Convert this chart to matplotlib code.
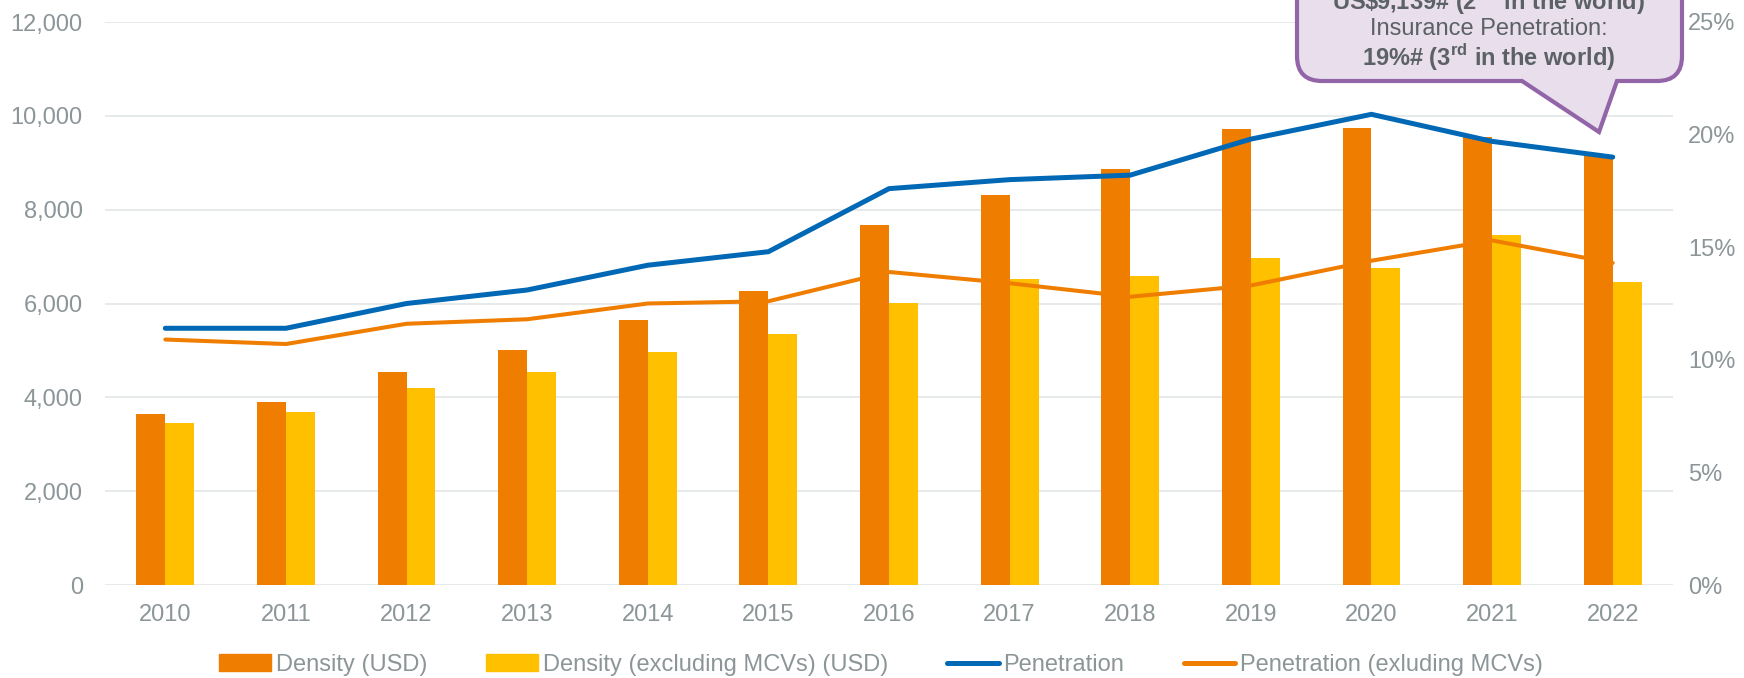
#!/usr/bin/env python3
"""Insurance density and penetration, 2010-2022, with a callout box."""
import matplotlib

matplotlib.use("Agg")
import matplotlib.pyplot as plt
from matplotlib.lines import Line2D
from matplotlib.patches import Patch, PathPatch
from matplotlib.path import Path
from matplotlib.ticker import FuncFormatter, MultipleLocator
from matplotlib.transforms import Affine2D
import numpy as np

YEARS = ["2010", "2011", "2012", "2013", "2014", "2015", "2016",
         "2017", "2018", "2019", "2020", "2021", "2022"]
DENSITY = [3640, 3900, 4540, 5000, 5650, 6270, 7680,
           8320, 8860, 9710, 9750, 9550, 9139]
DENSITY_EX_MCV = [3450, 3680, 4200, 4550, 4975, 5350, 6010,
                  6520, 6580, 6970, 6765, 7450, 6460]
PENETRATION = [11.4, 11.4, 12.5, 13.1, 14.2, 14.8, 17.6,
               18.0, 18.2, 19.8, 20.9, 19.7, 19.0]
PENETRATION_EX_MCV = [10.9, 10.7, 11.6, 11.8, 12.5, 12.6, 13.9,
                      13.4, 12.8, 13.3, 14.4, 15.3, 14.3]

LABELS = ["Density (USD)", "Density (excluding MCVs) (USD)",
          "Penetration", "Penetration (exluding MCVs)"]
CALLOUT_LINES = [
    (r"US\$9,139# (2$^{\mathbf{nd}}$ in the world)", "bold"),
    ("Insurance Penetration:", "normal"),
    (r"19%# (3$^{\mathbf{rd}}$ in the world)", "bold"),
]

ORANGE = "#EF7D00"
YELLOW = "#FFC000"
BLUE = "#0068B4"
GRID = "#E3E6E6"
TICK_GRAY = "#8C9598"
TEXT_DARK = "#5B6166"
PURPLE = "#9264A8"
LAVENDER = "#E8DEEC"

W, H = 1744, 678
FONT = 17


def _callout_path(left, right, top, bottom, r, tail_l, tail_r, tip):
    verts = [
        (left + r, top), (right - r, top),
        (right, top), (right, top + r),
        (right, bottom - r),
        (right, bottom), (right - r, bottom),
        (tail_r, bottom), tip, (tail_l, bottom),
        (left + r, bottom),
        (left, bottom), (left, bottom - r),
        (left, top + r),
        (left, top), (left + r, top),
        (left + r, top),
    ]
    codes = [
        Path.MOVETO, Path.LINETO,
        Path.CURVE3, Path.CURVE3,
        Path.LINETO,
        Path.CURVE3, Path.CURVE3,
        Path.LINETO, Path.LINETO, Path.LINETO,
        Path.LINETO,
        Path.CURVE3, Path.CURVE3,
        Path.LINETO,
        Path.CURVE3, Path.CURVE3,
        Path.CLOSEPOLY,
    ]
    return Path(verts, codes)


def main():
    plt.rcParams["font.family"] = ["Liberation Sans", "DejaVu Sans"]
    plt.rcParams["mathtext.fontset"] = "custom"
    plt.rcParams["mathtext.rm"] = "Liberation Sans"
    plt.rcParams["mathtext.bf"] = "Liberation Sans:bold"

    fig = plt.figure(figsize=(W / 100, H / 100), dpi=100)
    ax = fig.add_axes([105 / W, 1 - 585 / H, 1568 / W, 563 / H])
    ax2 = ax.twinx()

    x = np.arange(len(YEARS))
    bw = 0.24
    ax.bar(x - bw / 2, DENSITY, bw, color=ORANGE, zorder=2)
    ax.bar(x + bw / 2, DENSITY_EX_MCV, bw, color=YELLOW, zorder=2)

    ax2.plot(x, PENETRATION, color=BLUE, lw=3.6, solid_capstyle="round",
             solid_joinstyle="miter")
    ax2.plot(x, PENETRATION_EX_MCV, color=ORANGE, lw=2.9,
             solid_capstyle="round", solid_joinstyle="miter")

    ax.set_xlim(-0.5, len(YEARS) - 0.5)
    ax.set_ylim(0, 12000)
    ax2.set_ylim(0, 25)
    ax.yaxis.set_major_locator(MultipleLocator(2000))
    ax2.yaxis.set_major_locator(MultipleLocator(5))
    ax.yaxis.set_major_formatter(FuncFormatter(lambda v, _: f"{v:,.0f}"))
    ax2.yaxis.set_major_formatter(FuncFormatter(lambda v, _: f"{v:.0f}%"))
    ax.set_xticks(x)
    ax.set_xticklabels(YEARS)

    ax.grid(axis="y", color=GRID, lw=1.2, zorder=0)
    ax.set_axisbelow(True)
    for a in (ax, ax2):
        for s in a.spines.values():
            s.set_visible(False)
    ax.tick_params(axis="y", length=0, pad=16, labelsize=FONT, labelcolor=TICK_GRAY)
    ax.tick_params(axis="x", length=0, pad=14, labelsize=FONT, labelcolor=TICK_GRAY)
    ax2.tick_params(axis="y", length=0, pad=11, labelsize=FONT, labelcolor=TICK_GRAY)

    handles = [
        Patch(color=ORANGE, label=LABELS[0]),
        Patch(color=YELLOW, label=LABELS[1]),
        Line2D([0], [0], color=BLUE, lw=3.6, solid_capstyle="round", label=LABELS[2]),
        Line2D([0], [0], color=ORANGE, lw=3.6, solid_capstyle="round", label=LABELS[3]),
    ]
    fig.legend(handles=handles, ncol=4, loc="center",
               bbox_to_anchor=(881 / W, 1 - 665 / H), frameon=False,
               fontsize=FONT, labelcolor=TICK_GRAY, handlelength=2.2,
               handletextpad=0.2, columnspacing=2.5)

    # callout box, laid out in pixel units (y down) then mapped to the figure
    px = Affine2D().scale(1 / W, -1 / H).translate(0, 1) + fig.transFigure
    path = _callout_path(1297, 1682, -40, 81, 25, 1522, 1617, (1599, 132))
    fig.add_artist(PathPatch(path, facecolor=LAVENDER, edgecolor=PURPLE,
                             lw=3.0, joinstyle="miter", transform=px,
                             clip_on=False, zorder=5))
    for i, (line, weight) in enumerate(CALLOUT_LINES):
        fig.text(1489, 1 + 28 * i, line, transform=px, ha="center",
                 va="center", fontsize=FONT, fontweight=weight,
                 color=TEXT_DARK, zorder=6)

    fig.savefig("out.png", dpi=100)
    plt.close(fig)


if __name__ == "__main__":
    main()
